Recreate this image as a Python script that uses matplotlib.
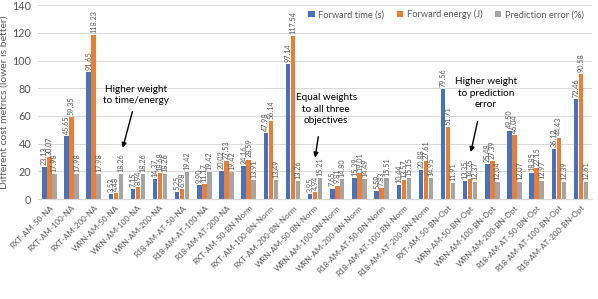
import matplotlib.pyplot as plt
import numpy as np

plt.rcParams["font.family"] = ["Lato", "DejaVu Sans"]

configs = [
    "RXT-AM-50-NA", "RXT-AM-100-NA", "RXT-AM-200-NA",
    "WRN-AM-50-NA", "WRN-AM-100-NA", "WRN-AM-200-NA",
    "R18-AM-AT-50-NA", "R18-AM-AT-100-NA", "R18-AM-AT-200-NA",
    "RXT-AM-50-BN-Norm", "RXT-AM-100-BN-Norm", "RXT-AM-200-BN-Norm",
    "WRN-AM-50-BN-Norm", "WRN-AM-100-BN-Norm", "WRN-AM-200-BN-Norm",
    "R18-AM-AT-50-BN-Norm", "R18-AM-AT-100-BN-Norm", "R18-AM-AT-200-BN-Norm",
    "RXT-AM-50-BN-Opt", "WRN-AM-50-BN-Opt", "WRN-AM-100-BN-Opt",
    "WRN-AM-200-BN-Opt", "R18-AM-AT-50-BN-Opt", "R18-AM-AT-100-BN-Opt",
    "R18-AM-AT-200-BN-Opt",
]
fwd_time = [23.13, 45.65, 91.65, 3.53, 7.15, 14.37, 5.25, 9.90, 20.02,
            24.16, 47.98, 97.14, 3.95, 7.65, 15.39, 5.59, 10.44, 20.88,
            79.56, 13.35, 25.48, 49.50, 18.85, 36.12, 72.46]
fwd_energy = [30.07, 59.35, 118.23, 4.48, 8.94, 18.68, 6.98, 11.17, 27.53,
              28.59, 56.14, 117.54, 4.94, 9.81, 19.01, 7.83, 13.57, 27.61,
              51.71, 14.35, 27.39, 46.04, 22.15, 44.43, 90.58]
pred_err = [17.98, 17.98, 17.98, 18.26, 18.26, 18.26, 19.42, 19.42, 19.42,
            13.91, 13.49, 13.26, 15.21, 14.80, 14.49, 15.51, 15.15, 14.95,
            11.91, 12.37, 12.04, 12.07, 12.97, 12.39, 12.61]

series = [("Forward time (s)", fwd_time, "#4472C4"),
          ("Forward energy (J)", fwd_energy, "#ED7D31"),
          ("Prediction error (%)", pred_err, "#A5A5A5")]

txt = "#595959"
fig = plt.figure(figsize=(5.98, 2.99), dpi=100)
ax = fig.add_axes([0.064, 0.334, 0.926, 0.649])

x = np.arange(len(configs))
w = 0.2
step = 0.225
for k, (name, vals, col) in enumerate(series):
    pos = x + (k - 1) * step
    ax.bar(pos, vals, w, color=col, label=name, zorder=2)
    for p, v in zip(pos, vals):
        ax.text(p, v + 1.5, f"{v:.2f}", rotation=90, ha="center", va="bottom",
                fontsize=5.2, color=txt)

ax.set_xlim(-0.5, len(configs) - 0.5)
ax.set_ylim(0, 140)
ax.set_yticks(range(0, 141, 20))
ax.grid(axis="y", color="#D9D9D9", linewidth=0.7, zorder=0)
for s in ["top", "right", "left"]:
    ax.spines[s].set_visible(False)
ax.spines["bottom"].set_color("#D9D9D9")
ax.tick_params(length=0, colors=txt)
ax.tick_params(axis="y", labelsize=7.8, pad=5)
ax.set_xticks(x)
ax.set_xticklabels(configs, rotation=45, ha="right", rotation_mode="anchor",
                   fontsize=5.8)
ax.set_ylabel("Different cost metrics (lower is better)", fontsize=7.5,
              color=txt, labelpad=3)

ax.legend(loc="upper right", bbox_to_anchor=(1.0, 1.02), ncol=3, frameon=False,
          fontsize=6.7, handlelength=0.7, handleheight=0.7, columnspacing=1.3,
          handletextpad=0.4, labelcolor=txt)

arrow = dict(arrowstyle="-|>", color="black", lw=1.0, mutation_scale=7)
ax.text(3.9, 75, "Higher weight\nto time/energy", ha="center", va="center",
        fontsize=7.2, linespacing=1.3)
ax.annotate("", xy=(3.28, 35), xytext=(3.78, 65), arrowprops=arrow)
ax.text(12.5, 65, "Equal weights\nto all three\nobjectives", ha="center",
        va="center", fontsize=7.2, linespacing=1.3)
ax.annotate("", xy=(11.98, 28), xytext=(12.16, 47), arrowprops=arrow)
ax.text(19.7, 76.5, "Higher weight\nto prediction\nerror", ha="center",
        va="center", fontsize=7.2, linespacing=1.3)
ax.annotate("", xy=(19.0, 32), xytext=(19.36, 58), arrowprops=arrow)

fig.savefig("out.png", dpi=100)
